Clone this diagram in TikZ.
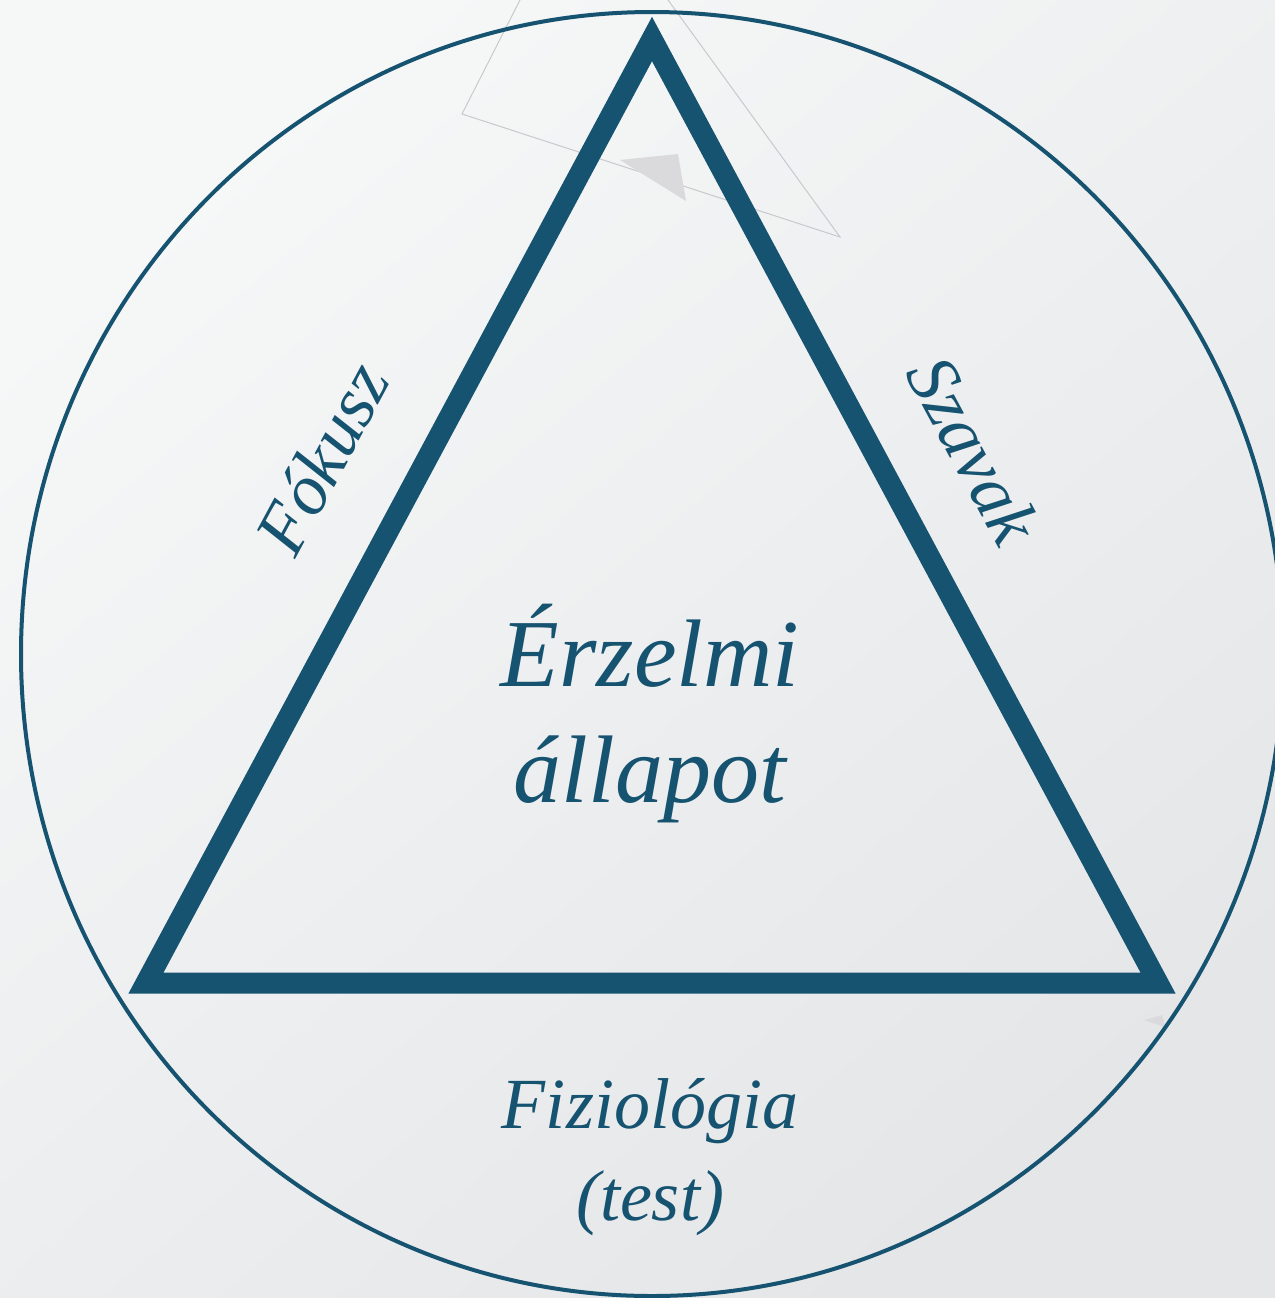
\documentclass[tikz,border=0pt]{standalone}
\usepackage{fontspec}
\setmainfont{Liberation Serif}
\definecolor{deepblue}{RGB}{21,83,112}
\definecolor{ghostline}{RGB}{200,201,206}
\definecolor{ghostfill}{RGB}{218,218,220}
\definecolor{bgtop}{RGB}{246,247,247}
\definecolor{bgbot}{RGB}{229,230,232}
\tikzset{side/.style={draw=deepblue, line width=10.5pt, line join=miter},
rim/.style={draw=deepblue, line width=2pt},
ghost/.style={draw=ghostline, line width=0.5pt},
word/.style={text=deepblue, inner sep=0pt, align=center},
bigword/.style={word, font=\itshape\fontsize{48}{58}\selectfont},
sideword/.style={word, font=\itshape\fontsize{36}{46}\selectfont},
}

\begin{document}
\begin{tikzpicture}[x=0.5pt, y=-0.5pt]
	\useasboundingbox (0,0) rectangle (1275,1298);
	\clip (0,0) rectangle (1275,1298);
	\shade[top color=bgtop, bottom color=bgbot, shading angle=40] (0,0) rectangle (1275,1298);
	\draw[ghost] (462,114) -- (840,237) -- (581,-120) -- cycle;
	\fill[ghostfill] (620,160) -- (678,154) -- (686,201) -- cycle;
	\fill[ghostfill] (1144,1020) -- (1162,1015) -- (1165,1027) -- cycle;
	\coordinate (hub) at (652,654);
	\draw[rim] (hub) ellipse [x radius=631, y radius=642];
	\coordinate (apex) at (652,39);
	\coordinate (baseL) at (146,983);
	\coordinate (baseR) at (1158,983);
	\draw[side] (apex) -- (baseL) -- (baseR) -- cycle;
	\node[bigword] (state) at (650,714) {Érzelmi\\állapot};
	\node[sideword, rotate=61.7] (focus) at (322,458) {Fókusz};
	\node[sideword, rotate=-61.7] (words) at (974,450) {Szavak};
	\node[sideword] (body) at (650,1157) {Fiziológia\\(test)};
\end{tikzpicture}
\end{document}
